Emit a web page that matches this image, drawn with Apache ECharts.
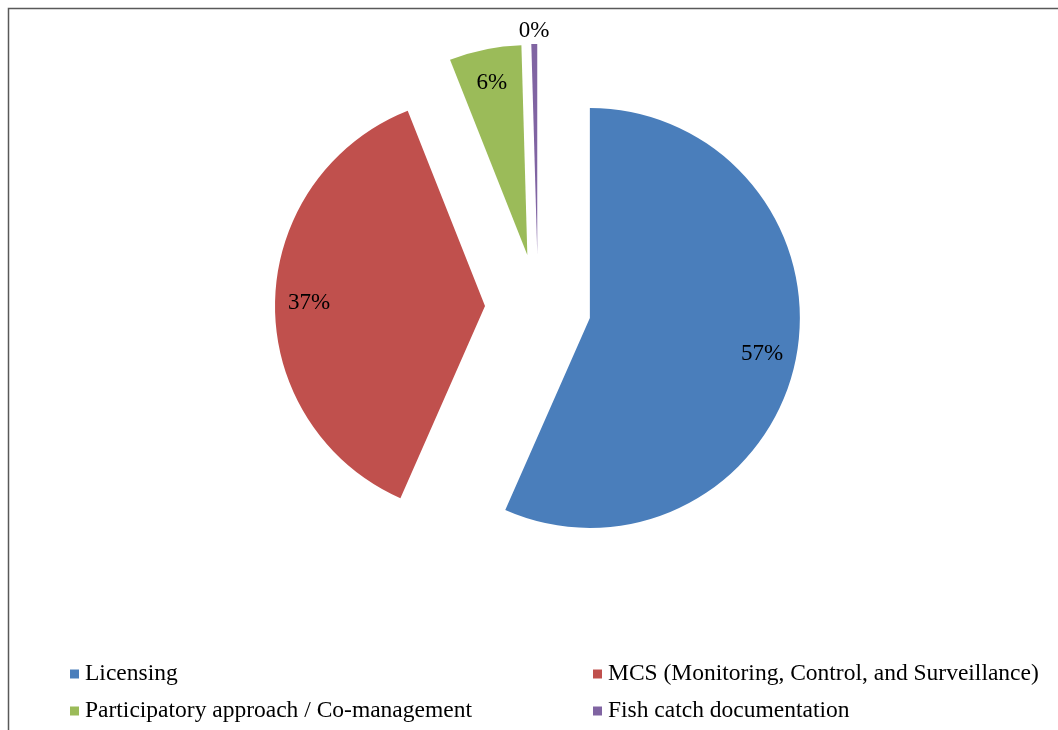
<!DOCTYPE html>
<html>
<head>
<meta charset="utf-8">
<title>Fisheries management measures</title>
<script src="https://cdn.jsdelivr.net/npm/echarts@6/dist/echarts.min.js"></script>
<style>
  html, body { margin: 0; padding: 0; background: #ffffff; }
  #chart { width: 1058px; height: 730px; }
</style>
</head>
<body>
<div id="chart"></div>
<script>
// Share of responses per management measure (percent)
const categories = [
  'Licensing',
  'MCS (Monitoring, Control, and Surveillance)',
  'Participatory approach / Co-management',
  'Fish catch documentation'
];
const shares = [56.6, 37.4, 5.55, 0.45];
const colors = ['#4A7EBB', '#C0504D', '#9BBB59', '#8064A2'];

// Pie geometry
const CENTER = [538, 307];
const R = 210;
const EXPLODE = 53;
const FONT = 'Liberation Serif, Times New Roman, serif';

const chart = echarts.init(document.getElementById('chart'), null, { renderer: 'canvas' });

const pct = p => Math.round(p.percent) + '%';

// Shared settings: every slice pulled out from the centre by the same distance
const base = {
  type: 'pie',
  center: CENTER,
  startAngle: 90,
  clockwise: true,
  selectedMode: 'multiple',
  selectedOffset: EXPLODE,
  animation: false,
  avoidLabelOverlap: false,
  labelLine: { show: false },
  emphasis: { disabled: true }
};

const sliceData = categories.map((name, i) => ({
  name: name,
  value: shares[i],
  selected: true,
  itemStyle: { color: colors[i] },
  select: { itemStyle: { color: colors[i], borderWidth: 0 } }
}));

// Transparent rings that only carry the percentage labels
const labelData = (show) => categories.map((name, i) => ({
  name: name,
  value: shares[i],
  selected: true,
  itemStyle: { color: 'rgba(0,0,0,0)' },
  select: { itemStyle: { color: 'rgba(0,0,0,0)', borderWidth: 0 } },
  label: { show: show(i) }
}));

const labelStyle = {
  position: 'inside',
  formatter: pct,
  color: '#000000',
  fontFamily: FONT,
  fontSize: 23
};

const legendCommon = {
  orient: 'vertical',
  top: 657,
  icon: 'rect',
  itemWidth: 9,
  itemHeight: 9,
  itemGap: 13,
  selectedMode: false,
  textStyle: {
    fontFamily: FONT,
    fontSize: 23.5,
    lineHeight: 23,
    color: '#000000',
    padding: [0, 0, 0, 1]
  }
};

chart.setOption({
  backgroundColor: '#ffffff',
  graphic: [{
    type: 'rect',
    shape: { x: 8.5, y: 8.5, width: 1200, height: 900 },
    style: { fill: 'none', stroke: '#595959', lineWidth: 1.5 },
    silent: true
  }],
  legend: [
    Object.assign({ left: 65, data: [categories[0], categories[2]] }, legendCommon),
    Object.assign({ left: 588, data: [categories[1], categories[3]] }, legendCommon)
  ],
  series: [
    Object.assign({}, base, {
      name: 'slices',
      radius: R,
      label: { show: false },
      data: sliceData
    }),
    Object.assign({}, base, {
      name: 'inner labels',
      radius: [136, R],
      silent: true,
      label: labelStyle,
      data: labelData(i => shares[i] >= 1)
    }),
    Object.assign({}, base, {
      name: 'outer labels',
      radius: [210, 230],
      silent: true,
      label: labelStyle,
      data: labelData(i => shares[i] < 1)
    })
  ]
});
</script>
</body>
</html>
